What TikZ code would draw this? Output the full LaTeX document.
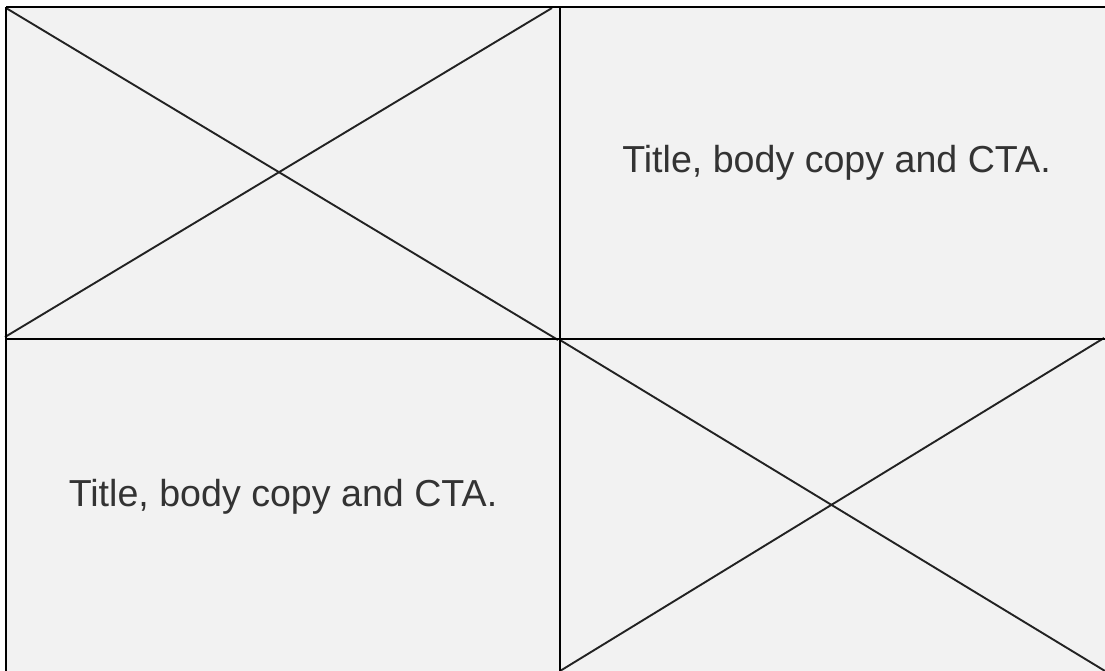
\documentclass[tikz,border=0pt]{standalone}
\usepackage{fontspec}
\setmainfont{Liberation Sans}
\definecolor{cellbg}{HTML}{F2F2F2}
\definecolor{txt}{HTML}{333333}
\definecolor{xline}{HTML}{222222}
\begin{document}
\begin{tikzpicture}[x=1pt,y=-1pt,
  border/.style={draw=black,line width=2.4pt},
  cross/.style={draw=xline,line width=1.9pt},
  label/.style={text=txt,font=\fontsize{37.6}{45}\selectfont,anchor=base,inner sep=0pt}]
\useasboundingbox (0,0) rectangle (1105,671);
\fill[white] (0,0) rectangle (1105,671);
\fill[cellbg] (6,7) rectangle (1105,671);
% corner coordinates
\coordinate (tl) at (6,7);
\coordinate (tm) at (560,7);
\coordinate (tr) at (1105,7);
\coordinate (ml) at (6,339);
\coordinate (mm) at (560,339);
\coordinate (mr) at (1105,339);
\coordinate (bl) at (6,671);
\coordinate (bm) at (560,671);
\coordinate (br) at (1105,671);
% crosses
\coordinate (a1) at (6,8);
\coordinate (a2) at (558,340);
\coordinate (b1) at (5,337);
\coordinate (b2) at (552,8);
\draw[cross] (a1) -- (a2);
\draw[cross] (b1) -- (b2);
\coordinate (c1) at (560,340);
\coordinate (c2) at (1105,671);
\coordinate (d1) at (560,671);
\coordinate (d2) at (1104,338);
\draw[cross] (c1) -- (c2);
\draw[cross] (d1) -- (d2);
% grid
\draw[border] (tl) -- (tr);
\draw[border] (tl) -- (bl);
\draw[border] (tm) -- (bm);
\draw[border] (ml) -- (mr);
% texts
\node[label] (t1) at (836.5,173) {Title, body copy and CTA.};
\node[label] (t2) at (283,506) {Title, body copy and CTA.};
\end{tikzpicture}
\end{document}
